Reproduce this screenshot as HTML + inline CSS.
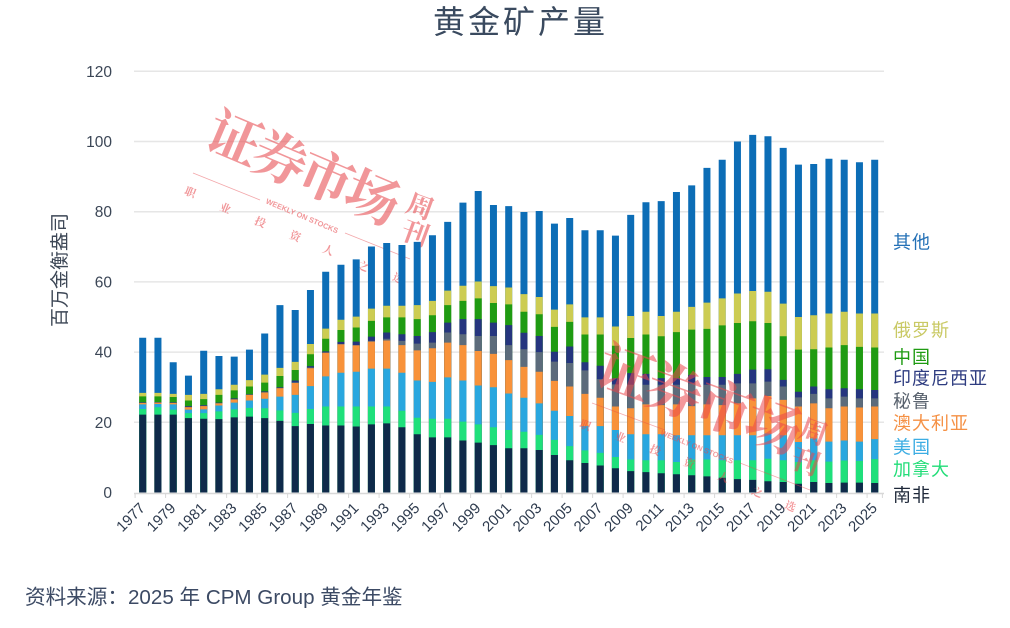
<!DOCTYPE html>
<html><head><meta charset="utf-8">
<style>
html,body{margin:0;padding:0;background:#fff;}
svg{display:block;}
.cj{font-family:"Liberation Sans","Noto Sans CJK SC",sans-serif;}
.wm{font-family:"Liberation Serif","Noto Serif CJK SC",serif;font-weight:700;}
</style></head>
<body>
<svg width="1010" height="628" viewBox="0 0 1010 628" xmlns="http://www.w3.org/2000/svg">
<rect width="1010" height="628" fill="#fff"/>
<!-- title -->
<text x="433" y="33" class="cj" font-size="32" letter-spacing="3" fill="#3a4a5f">黄金矿产量</text>
<!-- gridlines -->
<g stroke="#e6e6e6" stroke-width="1.5">
<line x1="134" x2="884" y1="71.3" y2="71.3"/>
<line x1="134" x2="884" y1="141.5" y2="141.5"/>
<line x1="134" x2="884" y1="211.7" y2="211.7"/>
<line x1="134" x2="884" y1="281.9" y2="281.9"/>
<line x1="134" x2="884" y1="352.1" y2="352.1"/>
<line x1="134" x2="884" y1="422.3" y2="422.3"/>
</g>
<!-- y labels -->
<g class="cj" font-size="15.5" fill="#3b4656" text-anchor="end">
<text x="112" y="76.8">120</text>
<text x="112" y="147">100</text>
<text x="112" y="217.2">80</text>
<text x="112" y="287.4">60</text>
<text x="112" y="357.6">40</text>
<text x="112" y="427.8">20</text>
<text x="112" y="498">0</text>
</g>
<text transform="translate(66,270) rotate(-90)" class="cj" font-size="19" fill="#3d4756" text-anchor="middle">百万金衡盎司</text>

<!-- watermark 1 (behind bars) -->
<g class="wm" fill="rgba(232,80,85,0.6)" text-anchor="middle" dominant-baseline="central">
<text font-size="54" transform="translate(234,140) rotate(23)">证</text>
<text font-size="54" transform="translate(280,160) rotate(23)">券</text>
<text font-size="54" transform="translate(326,179) rotate(23)">市</text>
<text font-size="54" transform="translate(372,199) rotate(23)">场</text>
<text font-size="27" transform="translate(420,207) rotate(20)">周</text>
<text font-size="27" transform="translate(415,234) rotate(20)">刊</text>
<text font-size="11" transform="translate(190,193) rotate(22)">职</text>
<text font-size="11" transform="translate(225,209) rotate(22)">业</text>
<text font-size="11" transform="translate(260,223) rotate(22)">投</text>
<text font-size="11" transform="translate(295,237) rotate(22)">资</text>
<text font-size="11" transform="translate(328,251) rotate(22)">人</text>
<text font-size="11" transform="translate(363,267) rotate(22)">之</text>
<text font-size="11" transform="translate(398,279) rotate(22)">选</text>
<text font-size="7.5" transform="translate(302,216) rotate(23)" font-family="Liberation Sans,sans-serif">WEEKLY ON STOCKS</text>
</g>
<g stroke="rgba(232,80,85,0.5)" stroke-width="0.8">
<line x1="193" y1="173" x2="260" y2="200"/>
<line x1="345" y1="233" x2="410" y2="259"/>
</g>

<!-- bars -->
<g transform="translate(0,492.5) scale(1,-3.51)">
<path fill="#0c6db6" d="M139.2 0h7v44.1h-7zm15.25 0h7v44.1h-7zm15.25 0h7v37.1h-7zm15.25 0h7v33.3h-7zm15.25 0h7v40.4h-7zm15.25 0h7v38.9h-7zm15.25 0h7v38.7h-7zm15.25 0h7v40.7h-7zm15.25 0h7v45.3h-7zm15.25 0h7v53.4h-7zm15.25 0h7v52.0h-7zm15.25 0h7v57.7h-7zm15.25 0h7v62.9h-7zm15.25 0h7v64.9h-7zm15.25 0h7v66.4h-7zm15.25 0h7v70.1h-7zm15.25 0h7v71.1h-7zm15.25 0h7v70.5h-7zm15.25 0h7v71.4h-7zm15.25 0h7v73.3h-7zm15.25 0h7v77.1h-7zm15.25 0h7v82.6h-7zm15.25 0h7v85.9h-7zm15.25 0h7v81.9h-7zm15.25 0h7v81.6h-7zm15.25 0h7v79.9h-7zm15.25 0h7v80.2h-7zm15.25 0h7v76.6h-7zm15.25 0h7v78.2h-7zm15.25 0h7v74.7h-7zm15.25 0h7v74.7h-7zm15.25 0h7v73.2h-7zm15.25 0h7v79.1h-7zm15.25 0h7v82.7h-7zm15.25 0h7v83.0h-7zm15.25 0h7v85.6h-7zm15.25 0h7v87.5h-7zm15.25 0h7v92.5h-7zm15.25 0h7v94.8h-7zm15.25 0h7v100.0h-7zm15.25 0h7v101.9h-7zm15.25 0h7v101.5h-7zm15.25 0h7v98.2h-7zm15.25 0h7v93.4h-7zm15.25 0h7v93.6h-7zm15.25 0h7v95.1h-7zm15.25 0h7v94.8h-7zm15.25 0h7v94.1h-7zm15.25 0h7v94.8h-7z"/>
<path fill="#cccc52" d="M139.2 0h7v28.4h-7zm15.25 0h7v28.4h-7zm15.25 0h7v28.1h-7zm15.25 0h7v27.8h-7zm15.25 0h7v28.1h-7zm15.25 0h7v29.4h-7zm15.25 0h7v30.7h-7zm15.25 0h7v32.0h-7zm15.25 0h7v33.6h-7zm15.25 0h7v35.5h-7zm15.25 0h7v37.2h-7zm15.25 0h7v42.3h-7zm15.25 0h7v46.7h-7zm15.25 0h7v49.2h-7zm15.25 0h7v50.1h-7zm15.25 0h7v52.4h-7zm15.25 0h7v53.2h-7zm15.25 0h7v53.2h-7zm15.25 0h7v53.4h-7zm15.25 0h7v54.6h-7zm15.25 0h7v57.5h-7zm15.25 0h7v58.9h-7zm15.25 0h7v60.1h-7zm15.25 0h7v58.8h-7zm15.25 0h7v58.4h-7zm15.25 0h7v56.5h-7zm15.25 0h7v55.7h-7zm15.25 0h7v52.1h-7zm15.25 0h7v53.6h-7zm15.25 0h7v49.9h-7zm15.25 0h7v49.9h-7zm15.25 0h7v47.3h-7zm15.25 0h7v50.3h-7zm15.25 0h7v51.5h-7zm15.25 0h7v50.3h-7zm15.25 0h7v51.5h-7zm15.25 0h7v52.9h-7zm15.25 0h7v54.1h-7zm15.25 0h7v55.3h-7zm15.25 0h7v56.7h-7zm15.25 0h7v57.4h-7zm15.25 0h7v57.2h-7zm15.25 0h7v53.8h-7zm15.25 0h7v50.0h-7zm15.25 0h7v50.5h-7zm15.25 0h7v51.0h-7zm15.25 0h7v51.5h-7zm15.25 0h7v51.0h-7zm15.25 0h7v51.0h-7z"/>
<path fill="#1f9b12" d="M139.2 0h7v27.4h-7zm15.25 0h7v27.4h-7zm15.25 0h7v27.2h-7zm15.25 0h7v26.2h-7zm15.25 0h7v26.6h-7zm15.25 0h7v27.8h-7zm15.25 0h7v29.1h-7zm15.25 0h7v30.2h-7zm15.25 0h7v31.3h-7zm15.25 0h7v33.2h-7zm15.25 0h7v34.9h-7zm15.25 0h7v39.4h-7zm15.25 0h7v43.8h-7zm15.25 0h7v46.3h-7zm15.25 0h7v47.0h-7zm15.25 0h7v48.9h-7zm15.25 0h7v49.9h-7zm15.25 0h7v49.9h-7zm15.25 0h7v49.4h-7zm15.25 0h7v50.5h-7zm15.25 0h7v53.4h-7zm15.25 0h7v54.6h-7zm15.25 0h7v55.3h-7zm15.25 0h7v54.0h-7zm15.25 0h7v53.6h-7zm15.25 0h7v51.5h-7zm15.25 0h7v50.8h-7zm15.25 0h7v47.2h-7zm15.25 0h7v48.6h-7zm15.25 0h7v45.0h-7zm15.25 0h7v45.0h-7zm15.25 0h7v41.8h-7zm15.25 0h7v44.0h-7zm15.25 0h7v45.0h-7zm15.25 0h7v44.5h-7zm15.25 0h7v45.7h-7zm15.25 0h7v46.4h-7zm15.25 0h7v46.6h-7zm15.25 0h7v47.6h-7zm15.25 0h7v48.3h-7zm15.25 0h7v48.8h-7zm15.25 0h7v48.3h-7zm15.25 0h7v44.5h-7zm15.25 0h7v40.7h-7zm15.25 0h7v40.8h-7zm15.25 0h7v41.3h-7zm15.25 0h7v42.0h-7zm15.25 0h7v41.5h-7zm15.25 0h7v41.3h-7z"/>
<path fill="#25357e" d="M139.2 0h7v25.7h-7zm15.25 0h7v25.8h-7zm15.25 0h7v25.7h-7zm15.25 0h7v24.6h-7zm15.25 0h7v24.9h-7zm15.25 0h7v25.6h-7zm15.25 0h7v26.8h-7zm15.25 0h7v28.0h-7zm15.25 0h7v28.8h-7zm15.25 0h7v30.0h-7zm15.25 0h7v31.9h-7zm15.25 0h7v36.0h-7zm15.25 0h7v40.2h-7zm15.25 0h7v42.9h-7zm15.25 0h7v43.0h-7zm15.25 0h7v44.4h-7zm15.25 0h7v45.6h-7zm15.25 0h7v45.1h-7zm15.25 0h7v44.6h-7zm15.25 0h7v45.7h-7zm15.25 0h7v48.4h-7zm15.25 0h7v49.4h-7zm15.25 0h7v49.4h-7zm15.25 0h7v48.4h-7zm15.25 0h7v47.7h-7zm15.25 0h7v45.5h-7zm15.25 0h7v44.6h-7zm15.25 0h7v40.1h-7zm15.25 0h7v41.6h-7zm15.25 0h7v37.1h-7zm15.25 0h7v36.1h-7zm15.25 0h7v32.5h-7zm15.25 0h7v34.0h-7zm15.25 0h7v33.8h-7zm15.25 0h7v32.6h-7zm15.25 0h7v32.6h-7zm15.25 0h7v33.5h-7zm15.25 0h7v32.9h-7zm15.25 0h7v32.9h-7zm15.25 0h7v33.8h-7zm15.25 0h7v35.0h-7zm15.25 0h7v35.1h-7zm15.25 0h7v32.1h-7zm15.25 0h7v28.7h-7zm15.25 0h7v30.2h-7zm15.25 0h7v29.4h-7zm15.25 0h7v29.7h-7zm15.25 0h7v29.4h-7zm15.25 0h7v29.2h-7z"/>
<path fill="#5c6b7b" d="M139.2 0h7v25.6h-7zm15.25 0h7v25.7h-7zm15.25 0h7v25.6h-7zm15.25 0h7v24.4h-7zm15.25 0h7v24.7h-7zm15.25 0h7v25.5h-7zm15.25 0h7v26.6h-7zm15.25 0h7v27.9h-7zm15.25 0h7v28.6h-7zm15.25 0h7v29.8h-7zm15.25 0h7v31.4h-7zm15.25 0h7v35.6h-7zm15.25 0h7v39.9h-7zm15.25 0h7v42.3h-7zm15.25 0h7v42.0h-7zm15.25 0h7v43.2h-7zm15.25 0h7v43.8h-7zm15.25 0h7v43.2h-7zm15.25 0h7v42.4h-7zm15.25 0h7v42.7h-7zm15.25 0h7v45.6h-7zm15.25 0h7v45.1h-7zm15.25 0h7v44.6h-7zm15.25 0h7v44.6h-7zm15.25 0h7v42.0h-7zm15.25 0h7v40.8h-7zm15.25 0h7v40.0h-7zm15.25 0h7v37.3h-7zm15.25 0h7v36.9h-7zm15.25 0h7v34.8h-7zm15.25 0h7v32.3h-7zm15.25 0h7v30.8h-7zm15.25 0h7v30.7h-7zm15.25 0h7v30.7h-7zm15.25 0h7v30.7h-7zm15.25 0h7v30.7h-7zm15.25 0h7v31.1h-7zm15.25 0h7v30.7h-7zm15.25 0h7v30.7h-7zm15.25 0h7v31.1h-7zm15.25 0h7v31.1h-7zm15.25 0h7v31.6h-7zm15.25 0h7v30.2h-7zm15.25 0h7v27.1h-7zm15.25 0h7v28.1h-7zm15.25 0h7v26.8h-7zm15.25 0h7v27.3h-7zm15.25 0h7v26.8h-7zm15.25 0h7v26.8h-7z"/>
<path fill="#f8923a" d="M139.2 0h7v25.5h-7zm15.25 0h7v25.6h-7zm15.25 0h7v25.5h-7zm15.25 0h7v24.3h-7zm15.25 0h7v24.6h-7zm15.25 0h7v25.4h-7zm15.25 0h7v26.5h-7zm15.25 0h7v27.8h-7zm15.25 0h7v28.5h-7zm15.25 0h7v29.7h-7zm15.25 0h7v31.2h-7zm15.25 0h7v35.4h-7zm15.25 0h7v39.8h-7zm15.25 0h7v42.2h-7zm15.25 0h7v41.9h-7zm15.25 0h7v43.0h-7zm15.25 0h7v43.3h-7zm15.25 0h7v42.0h-7zm15.25 0h7v40.5h-7zm15.25 0h7v41.1h-7zm15.25 0h7v42.7h-7zm15.25 0h7v42.0h-7zm15.25 0h7v40.3h-7zm15.25 0h7v39.5h-7zm15.25 0h7v37.7h-7zm15.25 0h7v35.8h-7zm15.25 0h7v34.4h-7zm15.25 0h7v31.8h-7zm15.25 0h7v30.2h-7zm15.25 0h7v28.1h-7zm15.25 0h7v27.0h-7zm15.25 0h7v24.5h-7zm15.25 0h7v24.0h-7zm15.25 0h7v25.1h-7zm15.25 0h7v24.9h-7zm15.25 0h7v25.1h-7zm15.25 0h7v24.6h-7zm15.25 0h7v25.1h-7zm15.25 0h7v24.9h-7zm15.25 0h7v25.4h-7zm15.25 0h7v26.8h-7zm15.25 0h7v27.5h-7zm15.25 0h7v26.4h-7zm15.25 0h7v24.5h-7zm15.25 0h7v25.4h-7zm15.25 0h7v24.0h-7zm15.25 0h7v24.5h-7zm15.25 0h7v24.2h-7zm15.25 0h7v24.5h-7z"/>
<path fill="#29a7df" d="M139.2 0h7v25.1h-7zm15.25 0h7v25.2h-7zm15.25 0h7v25.1h-7zm15.25 0h7v23.6h-7zm15.25 0h7v23.7h-7zm15.25 0h7v24.8h-7zm15.25 0h7v25.6h-7zm15.25 0h7v26.2h-7zm15.25 0h7v26.7h-7zm15.25 0h7v27.3h-7zm15.25 0h7v27.8h-7zm15.25 0h7v30.3h-7zm15.25 0h7v33.1h-7zm15.25 0h7v34.1h-7zm15.25 0h7v34.4h-7zm15.25 0h7v35.3h-7zm15.25 0h7v35.3h-7zm15.25 0h7v34.1h-7zm15.25 0h7v31.9h-7zm15.25 0h7v31.5h-7zm15.25 0h7v32.8h-7zm15.25 0h7v31.9h-7zm15.25 0h7v30.5h-7zm15.25 0h7v30.0h-7zm15.25 0h7v28.2h-7zm15.25 0h7v27.0h-7zm15.25 0h7v25.4h-7zm15.25 0h7v23.3h-7zm15.25 0h7v21.8h-7zm15.25 0h7v18.9h-7zm15.25 0h7v18.9h-7zm15.25 0h7v17.8h-7zm15.25 0h7v16.6h-7zm15.25 0h7v16.6h-7zm15.25 0h7v16.6h-7zm15.25 0h7v16.3h-7zm15.25 0h7v16.3h-7zm15.25 0h7v16.3h-7zm15.25 0h7v16.3h-7zm15.25 0h7v16.3h-7zm15.25 0h7v16.3h-7zm15.25 0h7v16.8h-7zm15.25 0h7v16.3h-7zm15.25 0h7v14.4h-7zm15.25 0h7v15.4h-7zm15.25 0h7v14.5h-7zm15.25 0h7v14.8h-7zm15.25 0h7v14.5h-7zm15.25 0h7v15.2h-7z"/>
<path fill="#1fe07b" d="M139.2 0h7v23.8h-7zm15.25 0h7v24.3h-7zm15.25 0h7v23.6h-7zm15.25 0h7v22.6h-7zm15.25 0h7v22.6h-7zm15.25 0h7v23.1h-7zm15.25 0h7v23.7h-7zm15.25 0h7v24.1h-7zm15.25 0h7v24.0h-7zm15.25 0h7v23.4h-7zm15.25 0h7v22.7h-7zm15.25 0h7v23.8h-7zm15.25 0h7v24.5h-7zm15.25 0h7v24.5h-7zm15.25 0h7v24.5h-7zm15.25 0h7v24.5h-7zm15.25 0h7v24.5h-7zm15.25 0h7v23.3h-7zm15.25 0h7v21.3h-7zm15.25 0h7v21.0h-7zm15.25 0h7v21.0h-7zm15.25 0h7v20.2h-7zm15.25 0h7v19.4h-7zm15.25 0h7v18.6h-7zm15.25 0h7v17.8h-7zm15.25 0h7v17.3h-7zm15.25 0h7v16.4h-7zm15.25 0h7v15.0h-7zm15.25 0h7v13.2h-7zm15.25 0h7v12.0h-7zm15.25 0h7v11.3h-7zm15.25 0h7v10.1h-7zm15.25 0h7v9.4h-7zm15.25 0h7v9.2h-7zm15.25 0h7v9.2h-7zm15.25 0h7v8.7h-7zm15.25 0h7v9.4h-7zm15.25 0h7v9.4h-7zm15.25 0h7v9.2h-7zm15.25 0h7v9.2h-7zm15.25 0h7v9.2h-7zm15.25 0h7v9.6h-7zm15.25 0h7v9.2h-7zm15.25 0h7v8.7h-7zm15.25 0h7v9.2h-7zm15.25 0h7v8.8h-7zm15.25 0h7v9.1h-7zm15.25 0h7v9.0h-7zm15.25 0h7v9.5h-7z"/>
<path fill="#0f2a4a" d="M139.2 0h7v22.2h-7zm15.25 0h7v22.2h-7zm15.25 0h7v22.2h-7zm15.25 0h7v21.2h-7zm15.25 0h7v21.0h-7zm15.25 0h7v20.9h-7zm15.25 0h7v21.4h-7zm15.25 0h7v21.6h-7zm15.25 0h7v21.2h-7zm15.25 0h7v20.4h-7zm15.25 0h7v18.9h-7zm15.25 0h7v19.5h-7zm15.25 0h7v19.1h-7zm15.25 0h7v19.1h-7zm15.25 0h7v18.8h-7zm15.25 0h7v19.4h-7zm15.25 0h7v19.7h-7zm15.25 0h7v18.6h-7zm15.25 0h7v16.6h-7zm15.25 0h7v15.7h-7zm15.25 0h7v15.7h-7zm15.25 0h7v14.8h-7zm15.25 0h7v14.2h-7zm15.25 0h7v13.5h-7zm15.25 0h7v12.6h-7zm15.25 0h7v12.6h-7zm15.25 0h7v12.1h-7zm15.25 0h7v10.7h-7zm15.25 0h7v9.2h-7zm15.25 0h7v8.4h-7zm15.25 0h7v7.7h-7zm15.25 0h7v6.9h-7zm15.25 0h7v6.1h-7zm15.25 0h7v5.8h-7zm15.25 0h7v5.5h-7zm15.25 0h7v5.2h-7zm15.25 0h7v4.9h-7zm15.25 0h7v4.6h-7zm15.25 0h7v4.2h-7zm15.25 0h7v3.8h-7zm15.25 0h7v3.6h-7zm15.25 0h7v3.2h-7zm15.25 0h7v3.0h-7zm15.25 0h7v2.5h-7zm15.25 0h7v3.0h-7zm15.25 0h7v2.7h-7zm15.25 0h7v2.8h-7zm15.25 0h7v2.8h-7zm15.25 0h7v2.7h-7z"/>
</g>

<!-- x axis -->
<line x1="134" x2="884" y1="493.5" y2="493.5" stroke="#d8d8d8" stroke-width="1.5"/>
<g stroke="#d8d8d8" stroke-width="1">
<path d="M135.1 493v5M165.6 493v5M196.1 493v5M226.6 493v5M257.1 493v5M287.6 493v5M318.1 493v5M348.6 493v5M379.1 493v5M409.6 493v5M440.1 493v5M470.6 493v5M501.1 493v5M531.6 493v5M562.1 493v5M592.6 493v5M623.1 493v5M653.6 493v5M684.1 493v5M714.6 493v5M745.1 493v5M775.6 493v5M806.1 493v5M836.6 493v5M867.1 493v5M882.4 493v5"/>
</g>
<g class="cj" font-size="15" fill="#2e3b4e" text-anchor="end">
<text transform="translate(146,509) rotate(-45)">1977</text>
<text transform="translate(176.5,509) rotate(-45)">1979</text>
<text transform="translate(207,509) rotate(-45)">1981</text>
<text transform="translate(237.5,509) rotate(-45)">1983</text>
<text transform="translate(268,509) rotate(-45)">1985</text>
<text transform="translate(298.5,509) rotate(-45)">1987</text>
<text transform="translate(329,509) rotate(-45)">1989</text>
<text transform="translate(359.5,509) rotate(-45)">1991</text>
<text transform="translate(390,509) rotate(-45)">1993</text>
<text transform="translate(420.5,509) rotate(-45)">1995</text>
<text transform="translate(451,509) rotate(-45)">1997</text>
<text transform="translate(481.5,509) rotate(-45)">1999</text>
<text transform="translate(512,509) rotate(-45)">2001</text>
<text transform="translate(542.5,509) rotate(-45)">2003</text>
<text transform="translate(573,509) rotate(-45)">2005</text>
<text transform="translate(603.5,509) rotate(-45)">2007</text>
<text transform="translate(634,509) rotate(-45)">2009</text>
<text transform="translate(664.5,509) rotate(-45)">2011</text>
<text transform="translate(695,509) rotate(-45)">2013</text>
<text transform="translate(725.5,509) rotate(-45)">2015</text>
<text transform="translate(756,509) rotate(-45)">2017</text>
<text transform="translate(786.5,509) rotate(-45)">2019</text>
<text transform="translate(817,509) rotate(-45)">2021</text>
<text transform="translate(847.5,509) rotate(-45)">2023</text>
<text transform="translate(878,509) rotate(-45)">2025</text>
</g>

<!-- watermark 2 (over bars) -->
<g class="wm" fill="rgba(235,70,75,0.55)" text-anchor="middle" dominant-baseline="central">
<text font-size="56" transform="translate(625,375) rotate(20)">证</text>
<text font-size="56" transform="translate(674,393) rotate(20)">券</text>
<text font-size="56" transform="translate(724,410) rotate(20)">市</text>
<text font-size="56" transform="translate(773,428) rotate(20)">场</text>
<text font-size="28" transform="translate(813,433) rotate(20)">周</text>
<text font-size="28" transform="translate(805,463) rotate(20)">刊</text>
<text font-size="11" transform="translate(585,426) rotate(22)">职</text>
<text font-size="11" transform="translate(620,438) rotate(22)">业</text>
<text font-size="11" transform="translate(655,451) rotate(22)">投</text>
<text font-size="11" transform="translate(689,464) rotate(22)">资</text>
<text font-size="11" transform="translate(723,478) rotate(22)">人</text>
<text font-size="11" transform="translate(757,493) rotate(22)">之</text>
<text font-size="11" transform="translate(790,507) rotate(22)">选</text>
<text font-size="7.5" transform="translate(697,447) rotate(22)" font-family="Liberation Sans,sans-serif">WEEKLY ON STOCKS</text>
</g>
<g stroke="rgba(235,70,75,0.45)" stroke-width="0.8">
<line x1="592" y1="403" x2="665" y2="430"/>
<line x1="740" y1="463" x2="810" y2="490"/>
</g>

<!-- legend -->
<g class="cj" font-size="18" letter-spacing="1">
<text x="893" y="248.5" fill="#2370b6">其他</text>
<text x="893" y="336.5" fill="#c9c964">俄罗斯</text>
<text x="893" y="363.5" fill="#1f9b12">中国</text>
<text x="893" y="384.5" fill="#2e3c80">印度尼西亚</text>
<text x="893" y="407.5" fill="#59626e">秘鲁</text>
<text x="893" y="429.5" fill="#f59145">澳大利亚</text>
<text x="893" y="453.5" fill="#3cade3">美国</text>
<text x="893" y="475.5" fill="#22dd78">加拿大</text>
<text x="893" y="501.5" fill="#1d2738">南非</text>
</g>

<!-- source -->
<text x="25" y="604" class="cj" font-size="20.6" fill="#3c4a64">资料来源：2025 年 CPM Group 黄金年鉴</text>
</svg>
</body></html>
